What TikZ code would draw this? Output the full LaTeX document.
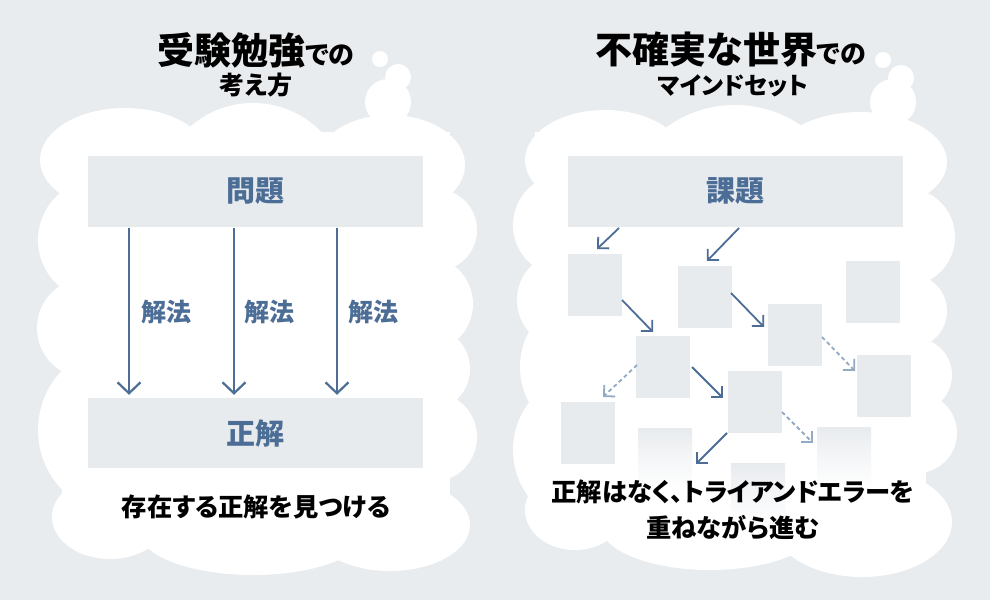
\documentclass[tikz,border=0pt]{standalone}
\usepackage{fontspec}
\setmainfont{Noto Sans CJK JP}
\newfontfamily\jppalt[RawFeature=+palt]{Noto Sans CJK JP}
\usetikzlibrary{arrows.meta,calc}
\definecolor{bg}{HTML}{E9ECEE}
\definecolor{boxg}{HTML}{E8EBEE}
\definecolor{blu}{HTML}{4B6D96}
\definecolor{lblu}{HTML}{93AAC4}
\tikzset{
  cloudpart/.style={fill=white,draw=none},
  bigbox/.style={fill=boxg, draw=none, minimum width=335pt, minimum height=71pt, inner sep=0pt, text=blu, font=\bfseries\fontsize{29}{32}\selectfont},
  sbox/.style={fill=boxg, draw=none, minimum width=54pt, minimum height=62pt, inner sep=0pt},
  fbox/.style={top color=boxg, bottom color=white, middle color=boxg!45!white, draw=none, minimum width=54pt, minimum height=62pt, inner sep=0pt},
  arrL/.style={draw=blu, line width=2.2pt, -{Straight Barb[length=11pt,width=23pt]}},
  arrR/.style={draw=blu, line width=1.8pt, -{Straight Barb[length=8pt,width=16pt]}},
  arrD/.style={draw=lblu, line width=1.8pt, dash pattern=on 4pt off 3pt, -{Straight Barb[length=8pt,width=16pt]}},
  lbl/.style={text=blu, font=\bfseries\fontsize{25}{28}\selectfont, inner sep=0pt},
  msg/.style={text=black, font=\jppalt\bfseries\fontsize{25.3}{30}\selectfont, inner sep=0pt},
  ttl/.style={text=black, font=\jppalt\bfseries, inner sep=0pt, anchor=base},
}
\begin{document}
\begin{tikzpicture}[x=1pt,y=-1pt]
\useasboundingbox (0,0) rectangle (990,600);
\fill[bg] (0,0) rectangle (990,600);

% ---------- left cloud ----------
\fill[cloudpart] (62,132) rectangle (450,530);
\fill[cloudpart] (125,160) ellipse [x radius=85, y radius=52];
\fill[cloudpart] (253,198) circle [radius=95];
\fill[cloudpart] (390,165) ellipse [x radius=75, y radius=50];
\fill[cloudpart] (388,102) circle [radius=23];
\fill[cloudpart] (398,77) circle [radius=13];
\fill[cloudpart] (380,59) circle [radius=8];
\fill[cloudpart] (99,240) circle [radius=61];
\fill[cloudpart] (87,328) circle [radius=50];
\fill[cloudpart] (124,430) circle [radius=86];
\fill[cloudpart] (110,517) ellipse [x radius=58, y radius=42];
\fill[cloudpart] (253,530) ellipse [x radius=115, y radius=45];
\fill[cloudpart] (390,525) ellipse [x radius=80, y radius=46];
\fill[cloudpart] (436,230) circle [radius=41];
\fill[cloudpart] (425,304) circle [radius=48];
\fill[cloudpart] (428,369) circle [radius=42];
\fill[cloudpart] (432,437) circle [radius=45];

% ---------- right cloud ----------
\fill[cloudpart] (535,132) rectangle (926,530);
\fill[cloudpart] (605,160) ellipse [x radius=80, y radius=50];
\fill[cloudpart] (735,222) circle [radius=117];
\fill[cloudpart] (860,162) ellipse [x radius=87, y radius=50];
\fill[cloudpart] (893,102) circle [radius=23];
\fill[cloudpart] (901,78) circle [radius=13];
\fill[cloudpart] (883,60) circle [radius=8];
\fill[cloudpart] (564,225) circle [radius=51];
\fill[cloudpart] (565,300) circle [radius=48];
\fill[cloudpart] (594,367) circle [radius=74];
\fill[cloudpart] (591,450) circle [radius=78];
\fill[cloudpart] (575,510) ellipse [x radius=50, y radius=40];
\fill[cloudpart] (710,525) ellipse [x radius=110, y radius=45];
\fill[cloudpart] (862,522) ellipse [x radius=90, y radius=55];
\fill[cloudpart] (906,237) circle [radius=49];
\fill[cloudpart] (910,311) circle [radius=37];
\fill[cloudpart] (915,375) circle [radius=37];
\fill[cloudpart] (917,433) circle [radius=40];

% ---------- titles ----------
\node[ttl] (t1) at (256,64) {{\fontsize{37}{40}\selectfont 受験勉強}{\fontsize{26}{30}\selectfont での}};
\node[ttl] (t2) at (256,94) {\fontsize{25}{28}\selectfont 考え方};
\node[ttl] (t3) at (731,63) {{\fontsize{37}{40}\selectfont 不確実な世界}{\fontsize{26}{30}\selectfont での}};
\node[ttl] (t4) at (733,94) {\fontsize{24}{28}\selectfont マインドセット};

% ---------- left diagram ----------
\node[bigbox] (mondai) at (255.5,191) {問題};
\node[bigbox, minimum height=70pt] (seikai) at (255.5,433) {正解};
\coordinate (c1) at (129,300);
\coordinate (c2) at (234,300);
\coordinate (c3) at (337,300);
\draw[arrL, shorten <=1pt, shorten >=3pt] (mondai.south -| c1) -- (seikai.north -| c1);
\draw[arrL, shorten <=1pt, shorten >=3pt] (mondai.south -| c2) -- (seikai.north -| c2);
\draw[arrL, shorten <=1pt, shorten >=3pt] (mondai.south -| c3) -- (seikai.north -| c3);
\node[lbl] (k1) at (166,312) {解法};
\node[lbl] (k2) at (269,312) {解法};
\node[lbl] (k3) at (373,312) {解法};
\node[msg] (m1) at (256,507) {存在する正解を見つける};

% ---------- right diagram ----------
\node[bigbox] (kadai) at (735,191.5) {課題};
\node[sbox] (b1) at (595,285) {};
\node[sbox] (b2) at (704.5,296.5) {};
\node[sbox] (b3) at (872.5,291.5) {};
\node[sbox] (b4) at (663,366.5) {};
\node[sbox] (b5) at (794.5,335) {};
\node[sbox] (b6) at (884,386) {};
\node[sbox] (b7) at (755,402) {};
\node[sbox] (b8) at (588,432.5) {};
\node[fbox] (f1) at (665,459) {};
\node[fbox] (f2) at (844,458) {};
\node[fbox] (f3) at (758,494) {};

\coordinate (a1s) at (619,228); \coordinate (a1e) at (597,249);
\coordinate (a2s) at (739,228); \coordinate (a2e) at (707,261);
\coordinate (a3s) at (622,300); \coordinate (a3e) at (653,332);
\coordinate (a4s) at (731,293); \coordinate (a4e) at (764,327);
\coordinate (a5s) at (692,367); \coordinate (a5e) at (723,398);
\coordinate (a6s) at (727,433); \coordinate (a6e) at (696,464);
\coordinate (d1s) at (637,365); \coordinate (d1e) at (603,397);
\coordinate (d2s) at (822,337); \coordinate (d2e) at (855,371);
\coordinate (d3s) at (782,412); \coordinate (d3e) at (813,443);
\draw[arrR] (a1s) -- (a1e);
\draw[arrR] (a2s) -- (a2e);
\draw[arrR] (a3s) -- (a3e);
\draw[arrR] (a4s) -- (a4e);
\draw[arrR] (a5s) -- (a5e);
\draw[arrR] (a6s) -- (a6e);
\draw[arrD] (d1s) -- (d1e);
\draw[arrD] (d2s) -- (d2e);
\draw[arrD] (d3s) -- (d3e);

\node[msg] (m2) at (733,492) {正解はなく、トライアンドエラーを};
\node[msg] (m3) at (733,528) {重ねながら進む};
\end{tikzpicture}
\end{document}
